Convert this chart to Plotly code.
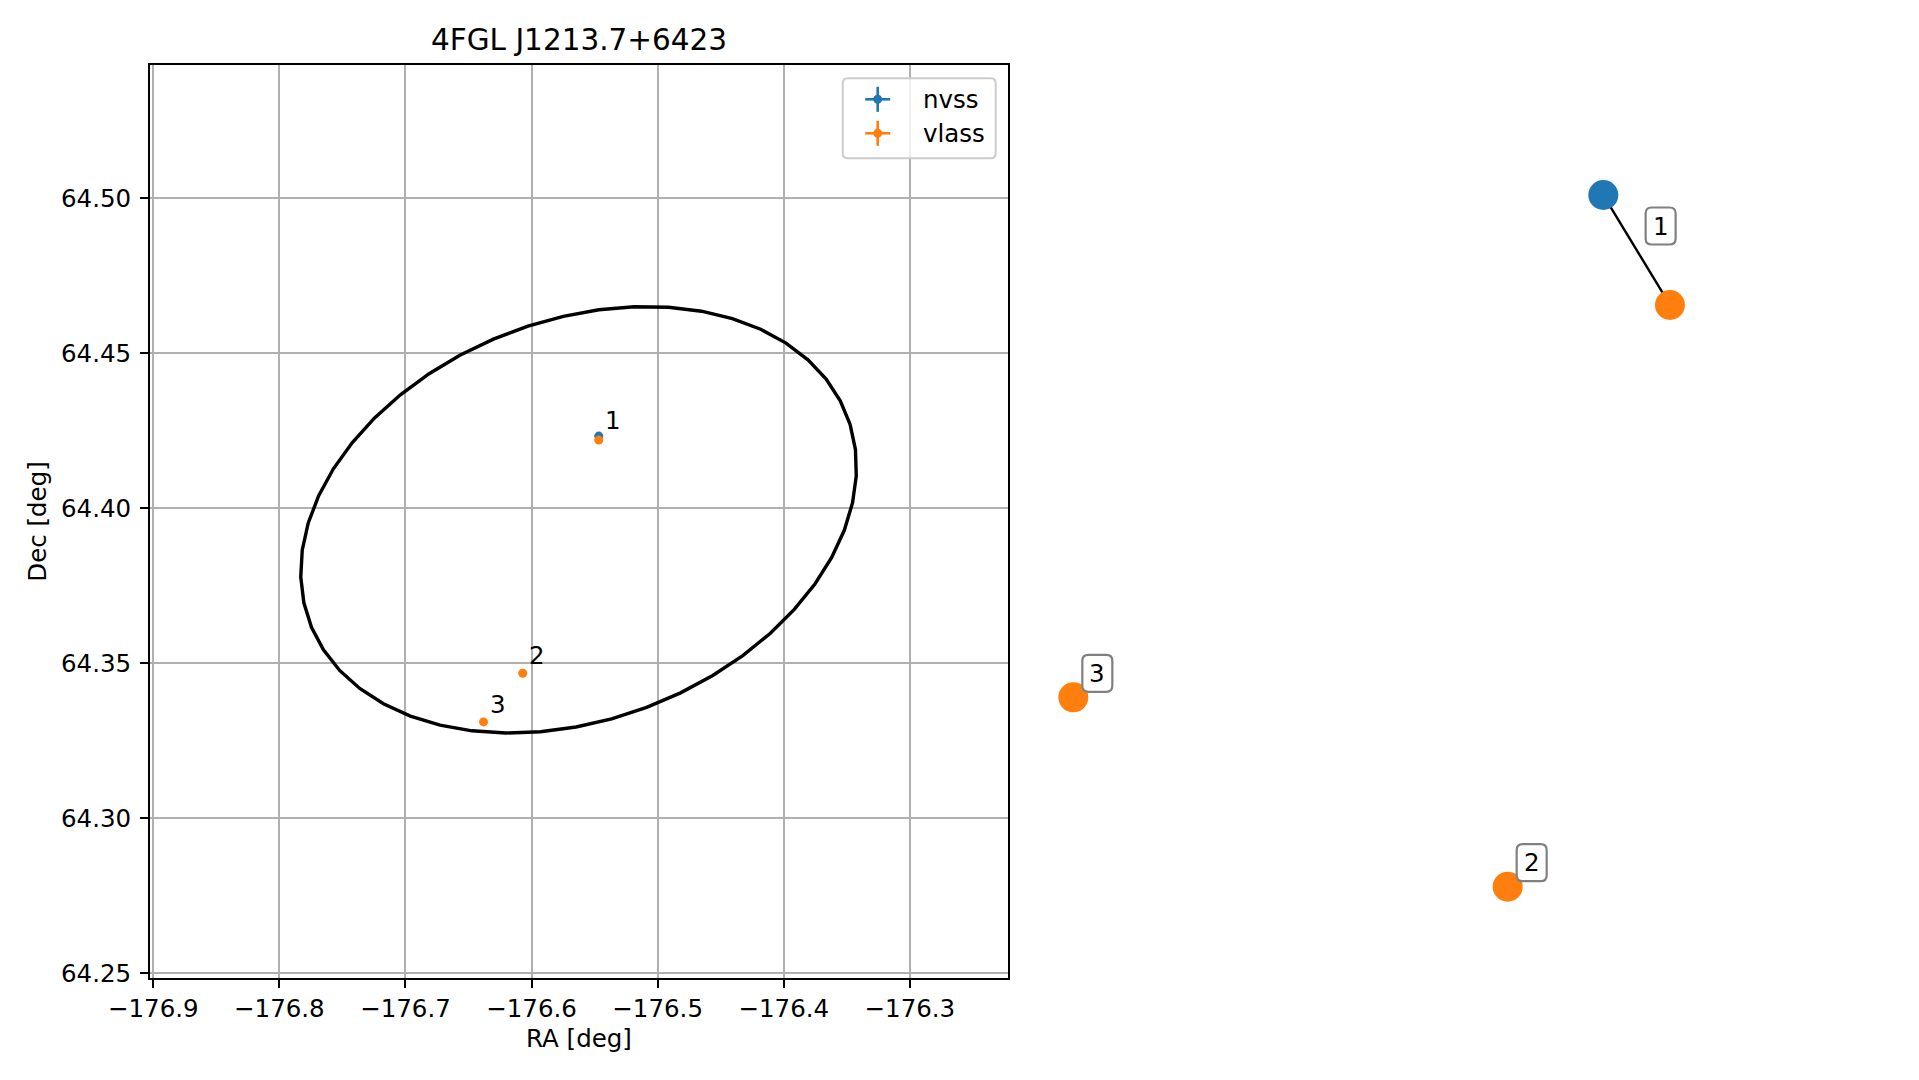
import numpy as np
import plotly.graph_objects as go

# ---------------- data ----------------
TITLE = "4FGL J1213.7+6423"

# Fermi 95% error ellipse parameters (deg)
ELL_RA0 = -176.5627
ELL_DEC0 = 64.3963
ELL_A = 0.0980
ELL_B = 0.0648
ELL_ANGLE_DEG = 18.3
ELL_NPTS = 50

NVSS_ID = ["1"]
NVSS_RA = [-176.5467]
NVSS_DEC = [64.4233]

VLASS_ID = ["1", "2", "3"]
VLASS_RA = [-176.5467, -176.6070, -176.6381]
VLASS_DEC = [64.4220, 64.3468, 64.3311]

# association graph (right panel), layout coordinates
GRAPH_NODE = ["nvss 1", "vlass 1", "vlass 2", "vlass 3"]
GRAPH_KIND = ["nvss", "vlass", "vlass", "vlass"]
GRAPH_GROUP = ["1", "1", "2", "3"]
GRAPH_X = [0.8535, 0.9545, 0.7086, 0.0505]
GRAPH_Y = [0.9423, 0.8013, 0.0555, 0.2983]
GRAPH_EDGES = [(0, 1)]

COLORS = {"nvss": "#1f77b4", "vlass": "#ff7f0e"}
FONT = "DejaVu Sans"
FS = 24.5
FS_TITLE = 29.5

# ---------------- layout geometry (pixels) ----------------
W, H = 1919, 1080
PAGE_OFF = 8.0  # default body margin of the html page
AX1 = dict(l=150.0, r=1007.7, t=65.0, b=977.7)
AX2 = dict(l=1040.0, r=1700.0, t=150.0, b=930.0)


def px(x):
    return (x - PAGE_OFF) / W


def py(y):
    return 1 - (y - PAGE_OFF) / H


def rrect(cx, cy, w, h, r):
    x0, x1 = cx - w / 2, cx + w / 2
    y0, y1 = cy - h / 2, cy + h / 2
    return (f"M {x0 + r},{y0} L {x1 - r},{y0} Q {x1},{y0} {x1},{y0 + r} "
            f"L {x1},{y1 - r} Q {x1},{y1} {x1 - r},{y1} L {x0 + r},{y1} "
            f"Q {x0},{y1} {x0},{y1 - r} L {x0},{y0 + r} Q {x0},{y0} {x0 + r},{y0} Z")


fig = go.Figure()

# ellipse
t = np.linspace(0, 2 * np.pi, ELL_NPTS)
th = np.deg2rad(ELL_ANGLE_DEG)
dx = ELL_A * np.cos(t) * np.cos(th) - ELL_B * np.sin(t) * np.sin(th)
dy = ELL_A * np.cos(t) * np.sin(th) + ELL_B * np.sin(t) * np.cos(th)
ell_ra = ELL_RA0 + dx / np.cos(np.deg2rad(ELL_DEC0))
ell_dec = ELL_DEC0 + dy
fig.add_trace(go.Scatter(x=ell_ra, y=ell_dec, mode="lines",
                         line=dict(color="black", width=3.4),
                         hoverinfo="skip", showlegend=False))

fig.add_trace(go.Scatter(x=NVSS_RA, y=NVSS_DEC, mode="markers", name="nvss",
                         marker=dict(color=COLORS["nvss"], size=9, line=dict(width=0)),
                         showlegend=False))
fig.add_trace(go.Scatter(x=VLASS_RA, y=VLASS_DEC, mode="markers", name="vlass",
                         marker=dict(color=COLORS["vlass"], size=9, line=dict(width=0)),
                         showlegend=False))

annotations = []
shapes = []

# labels on sky plot (group mean positions)
groups = {}
for i, ra, de in zip(NVSS_ID, NVSS_RA, NVSS_DEC):
    groups.setdefault(i, []).append((ra, de))
for i, ra, de in zip(VLASS_ID, VLASS_RA, VLASS_DEC):
    groups.setdefault(i, []).append((ra, de))
for gid, pts in groups.items():
    gx = float(np.mean([p[0] for p in pts]))
    gy = float(np.mean([p[1] for p in pts]))
    annotations.append(dict(x=gx, y=gy, xref="x", yref="y", text=gid, showarrow=False,
                            xanchor="left", yanchor="bottom", xshift=4, yshift=1,
                            font=dict(family=FONT, size=FS, color="black")))

# right panel graph
for a, b in GRAPH_EDGES:
    fig.add_trace(go.Scatter(x=[GRAPH_X[a], GRAPH_X[b]], y=[GRAPH_Y[a], GRAPH_Y[b]],
                             mode="lines", line=dict(color="black", width=2.4),
                             xaxis="x2", yaxis="y2", hoverinfo="skip", showlegend=False))
for kind in ["nvss", "vlass"]:
    idx = [i for i, k in enumerate(GRAPH_KIND) if k == kind]
    fig.add_trace(go.Scatter(x=[GRAPH_X[i] for i in idx], y=[GRAPH_Y[i] for i in idx],
                             mode="markers", text=[GRAPH_NODE[i] for i in idx],
                             marker=dict(color=COLORS[kind], size=30, line=dict(width=0)),
                             xaxis="x2", yaxis="y2", showlegend=False))

for gid in sorted(set(GRAPH_GROUP)):
    idx = [i for i, g in enumerate(GRAPH_GROUP) if g == gid]
    gx = float(np.mean([GRAPH_X[i] for i in idx]))
    gy = float(np.mean([GRAPH_Y[i] for i in idx]))
    shapes.append(dict(type="path", xref="x2", yref="y2", xsizemode="pixel", ysizemode="pixel",
                       xanchor=gx, yanchor=gy, path=rrect(24, 24, 30, 37, 6),
                       line=dict(color="#808080", width=2.2), fillcolor="white", layer="above"))
    annotations.append(dict(x=gx, y=gy, xref="x2", yref="y2", text=gid, showarrow=False,
                            xanchor="center", yanchor="middle", xshift=24, yshift=24,
                            font=dict(family=FONT, size=FS, color="black")))

# manual legend
shapes.append(dict(type="path", xref="paper", yref="paper", xsizemode="pixel", ysizemode="pixel",
                   xanchor=px(919.2), yanchor=py(118.3), path=rrect(0, 0, 153, 80, 5),
                   line=dict(color="#cccccc", width=2), fillcolor="rgba(255,255,255,0.8)",
                   layer="above"))
for name, ly in [("nvss", 99.3), ("vlass", 133.3)]:
    c = COLORS[name]
    shapes.append(dict(type="line", xref="paper", yref="paper", xsizemode="pixel",
                       ysizemode="pixel", xanchor=px(877.7), yanchor=py(ly),
                       x0=-12.5, x1=12.5, y0=0, y1=0, line=dict(color=c, width=2.6), layer="above"))
    shapes.append(dict(type="line", xref="paper", yref="paper", xsizemode="pixel",
                       ysizemode="pixel", xanchor=px(877.7), yanchor=py(ly),
                       x0=0, x1=0, y0=-12.5, y1=12.5, line=dict(color=c, width=2.6), layer="above"))
    shapes.append(dict(type="circle", xref="paper", yref="paper", xsizemode="pixel",
                       ysizemode="pixel", xanchor=px(877.7), yanchor=py(ly),
                       x0=-4.5, x1=4.5, y0=-4.5, y1=4.5, line=dict(width=0), fillcolor=c,
                       layer="above"))
    annotations.append(dict(x=px(921.0), y=py(ly), xref="paper", yref="paper", text=name,
                            showarrow=False, xanchor="left", yanchor="middle",
                            font=dict(family=FONT, size=FS, color="black")))

# titles
annotations.append(dict(x=px(578.9), y=py(40.4), xref="paper", yref="paper", text=TITLE,
                        showarrow=False, xanchor="center", yanchor="middle",
                        font=dict(family=FONT, size=FS_TITLE, color="black")))
annotations.append(dict(x=px(578.9), y=py(1038), xref="paper", yref="paper", text="RA [deg]",
                        showarrow=False, xanchor="center", yanchor="middle",
                        font=dict(family=FONT, size=FS, color="black")))
annotations.append(dict(x=px(36.7), y=py(521), xref="paper", yref="paper", text="Dec [deg]",
                        showarrow=False, xanchor="center", yanchor="middle", textangle=-90,
                        font=dict(family=FONT, size=FS, color="black")))

axis_common = dict(showline=True, linecolor="black", linewidth=2, mirror=True,
                   ticks="outside", ticklen=8, tickwidth=2, tickcolor="black",
                   showgrid=True, gridcolor="#b0b0b0", gridwidth=2, zeroline=False,
                   automargin=False,
                   tickfont=dict(family=FONT, size=FS, color="black"))

fig.update_layout(
    width=W, height=H, margin=dict(l=0, r=0, t=0, b=0, pad=0, autoexpand=False),
    paper_bgcolor="white", plot_bgcolor="white",
    font=dict(family=FONT, size=FS, color="black"),
    showlegend=False,
    xaxis=dict(domain=[px(AX1["l"]), px(AX1["r"])], range=[-176.9026, -176.2224],
               tick0=-176.9, dtick=0.1, anchor="y", **axis_common),
    yaxis=dict(domain=[py(AX1["b"]), py(AX1["t"])], range=[64.2486, 64.5430],
               tick0=64.25, dtick=0.05, tickformat=".2f", anchor="x",
               ticklabelstandoff=4, **axis_common),
    xaxis2=dict(domain=[px(AX2["l"]), px(AX2["r"])], range=[0, 1], visible=False,
                anchor="y2", automargin=False),
    yaxis2=dict(domain=[py(AX2["b"]), py(AX2["t"])], range=[0, 1], visible=False,
                anchor="x2", automargin=False),
    annotations=annotations, shapes=shapes,
)

fig.write_html("out.html")
